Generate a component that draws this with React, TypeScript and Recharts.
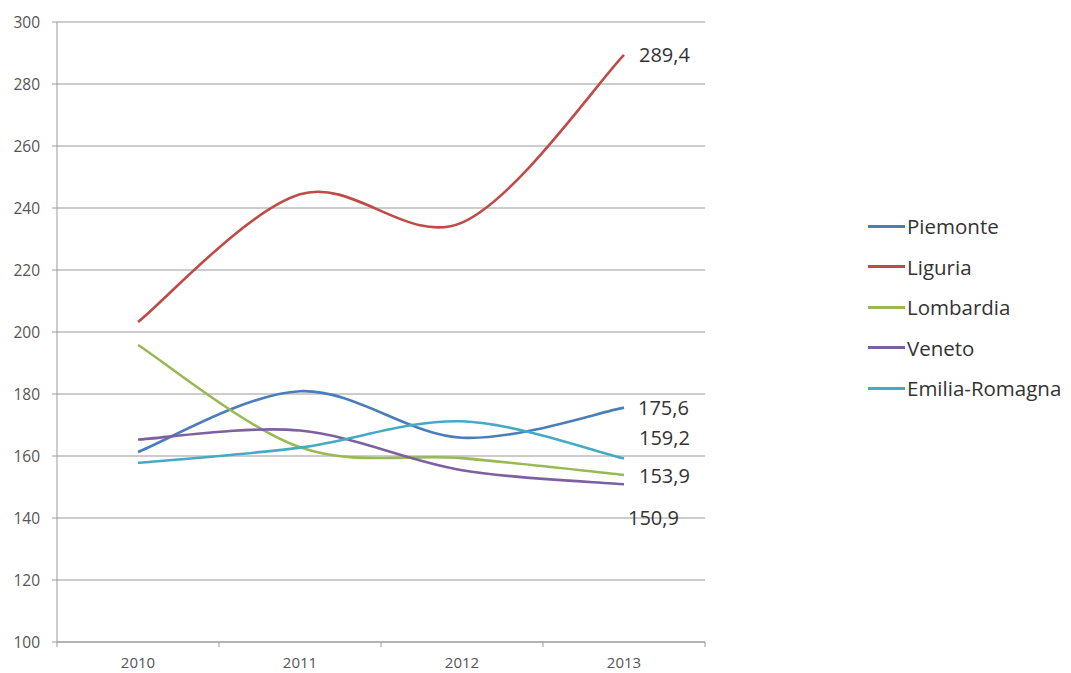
import React from "react";
import { CartesianGrid, LabelList, Line, LineChart, XAxis, YAxis } from "recharts";

const years = ["2010", "2011", "2012", "2013"];
const piemonte = [161.3, 180.9, 165.9, 175.6];
const liguria = [203.2, 244.4, 235.3, 289.4];
const lombardia = [195.8, 162.8, 159.3, 153.9];
const veneto = [165.3, 168.2, 155.4, 150.9];
const emilia = [157.8, 162.7, 171.2, 159.2];
const yTicks = [100, 120, 140, 160, 180, 200, 220, 240, 260, 280, 300];

const series = [
  { key: "Piemonte", values: piemonte, color: "#4a7ebb" },
  { key: "Liguria", values: liguria, color: "#be4b48" },
  { key: "Lombardia", values: lombardia, color: "#98b954" },
  { key: "Veneto", values: veneto, color: "#7d60a0" },
  { key: "Emilia-Romagna", values: emilia, color: "#46aac5" }
];

// where the end value sits relative to the last point
const labelOffset: Record<string, [number, number]> = {
  Piemonte: [14, 0],
  Liguria: [15, 0],
  Lombardia: [15, 1],
  Veneto: [4, 33],
  "Emilia-Romagna": [15, -21]
};

const data = years.map((year, i) => {
  const row: Record<string, string | number> = { year };
  series.forEach((s) => {
    row[s.key] = s.values[i];
  });
  return row;
});

const W = 1071;
const H = 673;
const LEFT = 57;
const RIGHT = 366;
const TOP = 22;
const X_AXIS_H = 31;
const HALF_BAND = (W - LEFT - RIGHT) / years.length / 2;
const FONT = "'Open Sans', sans-serif";
const GRID = "#9a9a9a";

// Excel style smoothing (Catmull-Rom through the points)
function excelCurve(context: any) {
  let pts: number[][] = [];
  return {
    areaStart() {},
    areaEnd() {},
    lineStart() {
      pts = [];
    },
    point(x: number, y: number) {
      pts.push([+x, +y]);
    },
    lineEnd() {
      if (!pts.length) return;
      context.moveTo(pts[0][0], pts[0][1]);
      for (let i = 0; i < pts.length - 1; i++) {
        const p0 = pts[i - 1] || pts[i];
        const p1 = pts[i];
        const p2 = pts[i + 1];
        const p3 = pts[i + 2] || p2;
        context.bezierCurveTo(
          p1[0] + (p2[0] - p0[0]) / 6,
          p1[1] + (p2[1] - p0[1]) / 6,
          p2[0] - (p3[0] - p1[0]) / 6,
          p2[1] - (p3[1] - p1[1]) / 6,
          p2[0],
          p2[1]
        );
      }
    }
  };
}

function YearTick(props: any) {
  const { x, y, payload, index } = props;
  const last = index === years.length - 1;
  return (
    <g>
      <line x1={x - HALF_BAND} x2={x - HALF_BAND} y1={y} y2={y + 5} stroke={GRID} />
      {last && <line x1={x + HALF_BAND} x2={x + HALF_BAND} y1={y} y2={y + 5} stroke={GRID} />}
      <text x={x} y={y + 20} textAnchor="middle" dominantBaseline="central" fill="#555" fontSize={15} fontFamily={FONT}>
        {payload.value}
      </text>
    </g>
  );
}

function endLabel(name: string) {
  return (props: any) => {
    const { x, y, index, value } = props;
    if (index !== years.length - 1) return null;
    const [dx, dy] = labelOffset[name];
    return (
      <text x={x + dx} y={y + dy} dominantBaseline="central" fill="#333" fontSize={20} fontFamily={FONT}>
        {Number(value).toFixed(1).replace(".", ",")}
      </text>
    );
  };
}

export default function App() {
  return (
    <div style={{ position: "absolute", left: 0, top: 0, width: W, height: H, background: "#fff" }}>
      <LineChart width={W} height={H} data={data} margin={{ top: TOP, right: RIGHT, bottom: 0, left: 0 }}>
        <CartesianGrid vertical={false} stroke={GRID} />
        <XAxis
          dataKey="year"
          height={X_AXIS_H}
          padding={{ left: HALF_BAND, right: HALF_BAND }}
          stroke={GRID}
          tickLine={false}
          tickSize={0}
          tickMargin={0}
          tick={<YearTick />}
          interval={0}
        />
        <YAxis
          width={LEFT}
          domain={[100, 300]}
          ticks={yTicks}
          interval={0}
          stroke={GRID}
          tickSize={5}
          tickMargin={12}
          tick={{ fill: "#555", fontSize: 15.5, fontFamily: FONT }}
        />
        {series.map((s) => (
          <Line
            key={s.key}
            dataKey={s.key}
            type={excelCurve as any}
            stroke={s.color}
            strokeWidth={2.6}
            dot={false}
            activeDot={false}
            isAnimationActive={false}
          >
            <LabelList dataKey={s.key} content={endLabel(s.key)} />
          </Line>
        ))}
      </LineChart>
      <div style={{ position: "absolute", left: 868, top: 206, fontFamily: FONT }}>
        {series.map((s) => (
          <div key={s.key} style={{ display: "flex", alignItems: "center", height: 40.5 }}>
            <span style={{ width: 37, height: 3, background: s.color, display: "inline-block" }} />
            <span style={{ fontSize: 20.5, color: "#333", marginLeft: 2 }}>{s.key}</span>
          </div>
        ))}
      </div>
    </div>
  );
}
